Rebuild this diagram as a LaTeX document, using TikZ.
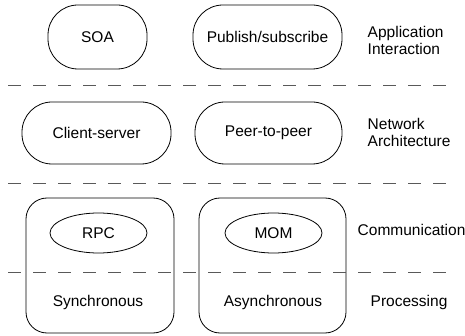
\documentclass[tikz,border=0pt]{standalone}
\usepackage{fontspec}
\setmainfont{Liberation Sans}
\usetikzlibrary{shapes.geometric}
\begin{document}
\begin{tikzpicture}[x=1pt,y=-1pt,line width=0.8pt,
 every node/.style={font=\fontsize{15.5}{17}\selectfont},
 pill/.style={draw,rounded corners=30pt,minimum height=64pt,inner sep=0pt},
 layer/.style={draw,rounded corners=21pt,minimum width=148pt,minimum height=135pt,inner sep=0pt},
 proto/.style={draw,ellipse,minimum width=97pt,minimum height=40pt,inner sep=0pt},
 side/.style={anchor=west,align=left},
 sep/.style={draw=black!65,line width=0.9pt,dash pattern=on 13pt off 12pt}]
\useasboundingbox (0,0) rectangle (465,336);
\node[pill,minimum width=99pt] (soa) at (97.5,37) {SOA};
\node[pill,minimum width=149pt] (pubsub) at (267.5,37) {Publish/subscribe};
\node[pill,minimum width=149pt,minimum height=62pt] (cs) at (96.5,133) {Client-server};
\node[pill,minimum width=147pt,minimum height=62pt] (p2p) at (268.5,133) {Peer-to-peer};
\node[layer] (sync) at (100,265.5) {};
\node[layer,minimum width=147pt] (async) at (272.5,265.5) {};
\node[proto] (rpc) at (98.5,233) {RPC};
\node[proto] (mom) at (273.5,233) {MOM};
\node (synctxt) at (98,302) {Synchronous};
\node (asynctxt) at (273,302) {Asynchronous};
\node[side] (appl) at (364,40) {Application\\Interaction};
\node[side] (netw) at (364,132) {Network\\Architecture};
\node[side] (comm) at (354,230) {Communication};
\node[side] (proc) at (367,302) {Processing};
\foreach \n/\y in {1/85,2/183,3/272}{
 \coordinate (l\n) at (8,\y);
 \coordinate (r\n) at (447,\y);
 \draw[sep] (l\n)--(r\n);}
\end{tikzpicture}
\end{document}
